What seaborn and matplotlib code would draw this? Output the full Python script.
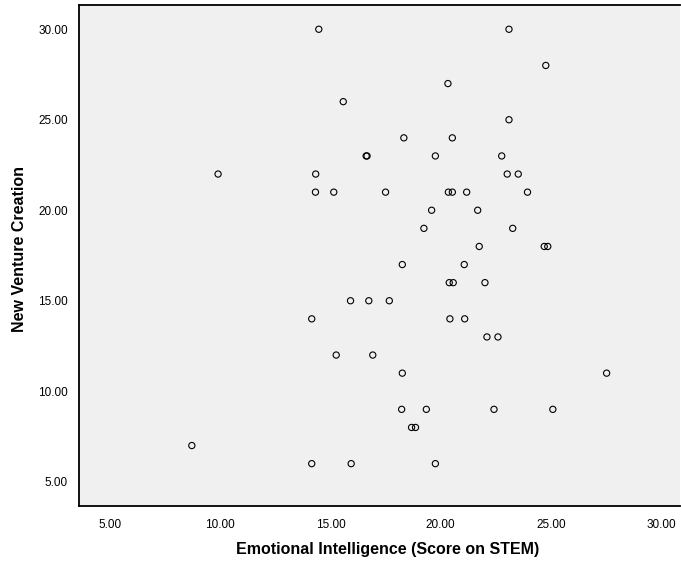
import matplotlib
matplotlib.use("Agg")
import matplotlib.pyplot as plt
import pandas as pd
import seaborn as sns
from matplotlib.ticker import FormatStrFormatter

sns.set_style("white")
plt.rcParams["font.family"] = ["Liberation Sans", "DejaVu Sans"]

# Emotional Intelligence (x) and New Venture Creation (y)
emotional_intelligence = [
    14.47, 23.10, 24.77, 20.33, 15.58, 23.10, 18.33, 20.53, 16.62, 16.66,
    19.76, 22.77, 9.90, 14.33, 23.02, 23.52, 14.32, 15.15, 17.50, 20.35,
    20.53, 21.18, 23.94, 19.59, 21.68, 19.24, 23.27, 21.75, 24.70, 24.86,
    18.26, 21.07, 20.39, 20.57, 22.01, 15.91, 16.74, 17.67, 14.15, 20.42,
    21.09, 22.10, 22.60, 15.26, 16.92, 18.26, 27.53, 18.23, 19.35, 22.42,
    25.09, 18.68, 18.86, 8.71, 14.15, 15.94, 19.76,
]
new_venture_creation = [
    30, 30, 28, 27, 26, 25, 24, 24, 23, 23,
    23, 23, 22, 22, 22, 22, 21, 21, 21, 21,
    21, 21, 21, 20, 20, 19, 19, 18, 18, 18,
    17, 17, 16, 16, 16, 15, 15, 15, 14, 14,
    14, 13, 13, 12, 12, 11, 11, 9, 9, 9,
    9, 8, 8, 7, 6, 6, 6,
]
tick_values = [5, 10, 15, 20, 25, 30]

df = pd.DataFrame({"ei": emotional_intelligence, "nvc": new_venture_creation})

fig = plt.figure(figsize=(6.81, 5.65), dpi=100)
ax = fig.add_axes([79 / 681, 1 - 506 / 565, 601 / 681, 501 / 565])
ax.set_facecolor("#f0f0f0")

sns.scatterplot(data=df, x="ei", y="nvc", ax=ax, marker="o", s=20,
                facecolor="none", edgecolor="black", linewidth=0.8)

ax.set_xlim(3.59, 30.86)
ax.set_ylim(3.66, 31.34)
ax.set_xticks(tick_values)
ax.set_yticks(tick_values)
ax.xaxis.set_major_formatter(FormatStrFormatter("%.2f"))
ax.yaxis.set_major_formatter(FormatStrFormatter("%.2f"))
ax.tick_params(axis="both", direction="out", length=6, width=1.3, labelsize=8.5,
               colors="black", pad=2)
ax.tick_params(axis="x", length=6.5, pad=3)

for side in ["left", "bottom", "top"]:
    ax.spines[side].set_linewidth(1.3)
    ax.spines[side].set_color("black")
ax.spines["right"].set_visible(False)

ax.set_xlabel("Emotional Intelligence (Score on STEM)", fontsize=11.5,
              fontweight="bold", color="black")
ax.set_ylabel("New Venture Creation", fontsize=11.5, fontweight="bold",
              color="black")
ax.xaxis.set_label_coords(0.513, -0.072)
ax.yaxis.set_label_coords(-0.087, 0.513)

fig.savefig("out.png", dpi=100)
